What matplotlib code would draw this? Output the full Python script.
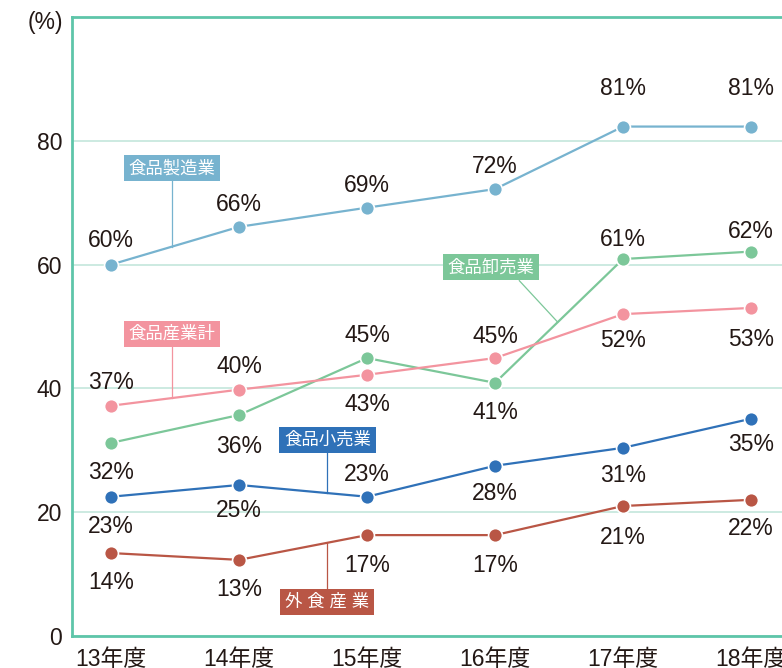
"""
Food industry line chart (%), FY13-FY18
"""
import numpy as np
import matplotlib
matplotlib.use('Agg')
import matplotlib.pyplot as plt

plt.rcParams['font.family'] = ['Liberation Sans', 'Noto Sans CJK JP', 'DejaVu Sans']

years = ['13年度', '14年度', '15年度', '16年度', '17年度', '18年度']

manufacturing = [60.0, 66.1, 69.2, 72.2, 82.3, 82.3]
wholesale = [31.2, 35.7, 44.9, 40.9, 60.9, 62.1]
total = [37.2, 39.8, 42.2, 44.9, 52.0, 53.0]
retail = [22.5, 24.4, 22.5, 27.5, 30.4, 35.1]
food_service = [13.4, 12.3, 16.3, 16.3, 21.0, 22.0]

manufacturing_labels = ['60%', '66%', '69%', '72%', '81%', '81%']
wholesale_labels = ['32%', '36%', '45%', '41%', '61%', '62%']
total_labels = ['37%', '40%', '43%', '45%', '52%', '53%']
retail_labels = ['23%', '25%', '23%', '28%', '31%', '35%']
food_service_labels = ['14%', '13%', '17%', '17%', '21%', '22%']

# label offsets in pixels (positive = up)
manufacturing_off = [24, 22, 22, 23, 38, 38]
wholesale_off = [-30, -31, 23, -30, 20, 20]
total_off = [23, 23, -30, 22, -26, -32]
retail_off = [-30, -26, 22, -28, -28, -26]
food_service_off = [-29, -30, -30, -30, -31, -29]

series = [
    ('食品製造業', manufacturing, manufacturing_labels, manufacturing_off, '#77b3cf',
     (0.477, 75.6), None),
    ('食品卸売業', wholesale, wholesale_labels, wholesale_off, '#7cc799',
     (2.97, 59.6), (3.19, 3.49)),
    ('食品産業計', total, total_labels, total_off, '#f3949f',
     (0.477, 48.8), None),
    ('食品小売業', retail, retail_labels, retail_off, '#2f71b8',
     (1.69, 31.7), None),
    ('外 食 産 業', food_service, food_service_labels, food_service_off, '#b95645',
     (1.69, 5.5), None),
]

TEAL = '#5ec5a9'
GRID = '#c3e6dc'
TXT = '#231815'

fig = plt.figure(figsize=(7.82, 6.68), dpi=100)
ax = fig.add_axes([72 / 782, 32 / 668, 1 - 72 / 782, (636 - 17) / 668])

x = np.arange(len(years))

for name, vals, labels, offs, color, box, diag in series:
    ax.plot(x, vals, color=color, lw=1.6, marker='o', ms=10,
            markeredgecolor='white', markeredgewidth=1.2, zorder=4)
    for xi, v, lab, off in zip(x, vals, labels, offs):
        ax.annotate(lab, (xi, v), xytext=(0, off), textcoords='offset pixels',
                    ha='center', va='center', fontsize=16.5, color=TXT, zorder=6)
    # leader line from name box to the series line
    if diag is None:
        y_end = np.interp(box[0], x, vals)
        ax.plot([box[0], box[0]], [box[1], y_end], color=color, lw=0.9, zorder=3)
    else:
        y_end = np.interp(diag[1], x, vals)
        ax.plot([diag[0], diag[1]], [57.4, y_end], color=color, lw=0.9, zorder=3)
    ax.text(box[0], box[1], name, ha='center', va='center', fontsize=12.5,
            color='white', zorder=7,
            bbox=dict(boxstyle='square,pad=0.28', fc=color, ec='none'))

ax.set_xlim(-0.305, (782 - 111) / 128)
ax.set_ylim(0, 100)
ax.set_yticks([0, 20, 40, 60, 80])
ax.set_xticks(x)
ax.set_xticklabels(years)
ax.tick_params(length=0, labelsize=16.5, colors=TXT)
ax.tick_params(axis='y', pad=7)
ax.tick_params(axis='x', pad=9)
ax.grid(axis='y', color=GRID, lw=1.2, zorder=1)
ax.set_axisbelow(True)

for side in ['left', 'top', 'bottom']:
    ax.spines[side].set_color(TEAL)
    ax.spines[side].set_linewidth(2)
ax.spines['right'].set_visible(False)

fig.text(45 / 782, 1 - 22 / 668, '(%)', ha='center', va='center',
         fontsize=16.5, color=TXT)

fig.savefig('out.png', dpi=100)
